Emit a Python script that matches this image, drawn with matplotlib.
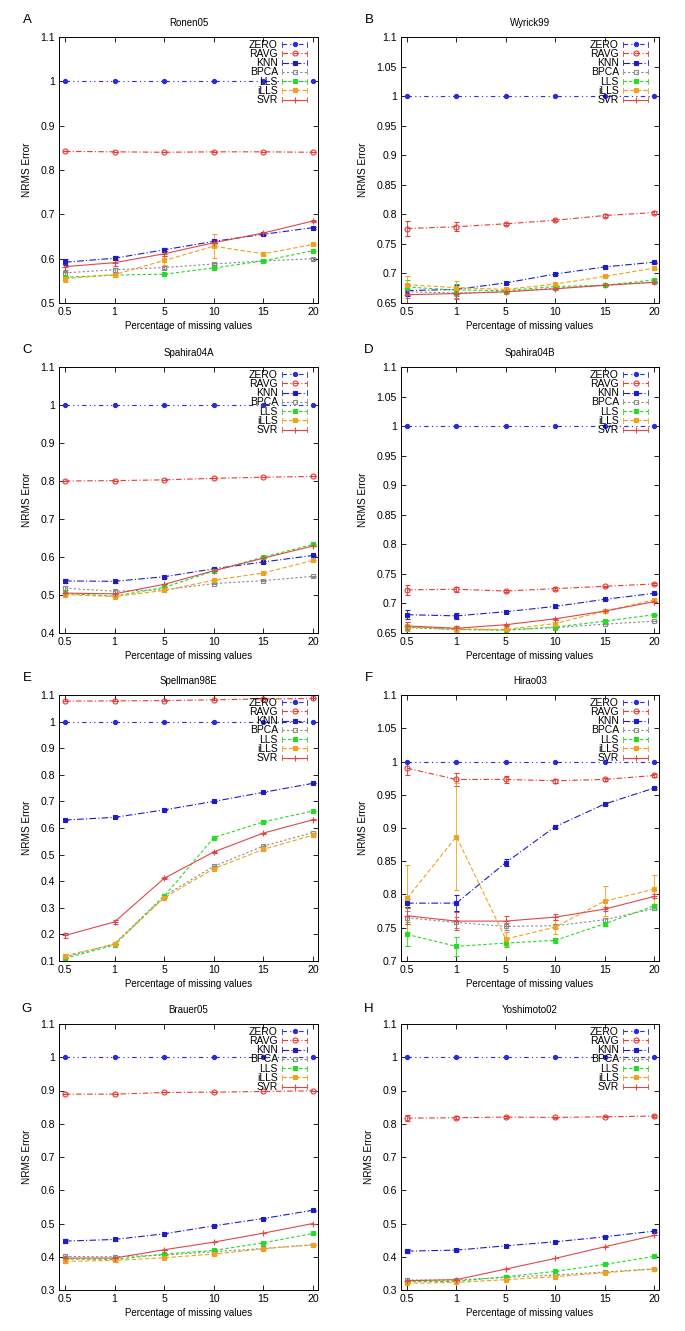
import numpy as np
import matplotlib
matplotlib.use("Agg")
import matplotlib.pyplot as plt
from matplotlib.lines import Line2D
from matplotlib.legend_handler import HandlerBase

plt.rcParams['font.family'] = ['Liberation Sans Narrow', 'Liberation Sans', 'DejaVu Sans']

categories = ["0.5", "1", "5", "10", "15", "20"]
methods = ["ZERO", "RAVG", "KNN", "BPCA", "LLS", "iLLS", "SVR"]

# ---- data per dataset (NRMS error) ----
ronen05 = {
    "ZERO": [1.0, 1.0, 1.0, 1.0, 1.0, 1.0],
    "RAVG": [0.842, 0.841, 0.840, 0.841, 0.841, 0.840],
    "KNN":  [0.592, 0.601, 0.620, 0.639, 0.655, 0.670],
    "BPCA": [0.568, 0.575, 0.580, 0.588, 0.595, 0.600],
    "LLS":  [0.558, 0.563, 0.565, 0.579, 0.595, 0.618],
    "iLLS": [0.555, 0.564, 0.596, 0.628, 0.611, 0.632],
    "SVR":  [0.582, 0.591, 0.611, 0.636, 0.658, 0.685],
}
ronen05_err = {
    "KNN":  [0.007, 0.005, 0.003, 0.003, 0.002, 0.002],
    "iLLS": [0.007, 0.005, 0.010, 0.027, 0.003, 0.002],
    "SVR":  [0.012, 0.008, 0.006, 0.004, 0.003, 0.002],
    "BPCA": [0.006, 0.004, 0.003, 0.002, 0.002, 0.002],
}

wyrick99 = {
    "ZERO": [1.0, 1.0, 1.0, 1.0, 1.0, 1.0],
    "RAVG": [0.776, 0.779, 0.784, 0.790, 0.798, 0.803],
    "KNN":  [0.671, 0.673, 0.684, 0.699, 0.711, 0.719],
    "BPCA": [0.669, 0.667, 0.669, 0.675, 0.680, 0.685],
    "LLS":  [0.677, 0.672, 0.671, 0.678, 0.680, 0.689],
    "iLLS": [0.681, 0.676, 0.673, 0.682, 0.695, 0.709],
    "SVR":  [0.664, 0.666, 0.669, 0.674, 0.680, 0.685],
}
wyrick99_err = {
    "RAVG": [0.012, 0.008, 0.002, 0.002, 0.002, 0.002],
    "KNN":  [0.010, 0.008, 0.002, 0.002, 0.001, 0.001],
    "BPCA": [0.010, 0.008, 0.002, 0.002, 0.001, 0.001],
    "LLS":  [0.012, 0.010, 0.002, 0.002, 0.001, 0.001],
    "iLLS": [0.015, 0.011, 0.002, 0.002, 0.001, 0.001],
    "SVR":  [0.016, 0.010, 0.002, 0.002, 0.001, 0.001],
}

spahira04a = {
    "ZERO": [1.0, 1.0, 1.0, 1.0, 1.0, 1.0],
    "RAVG": [0.800, 0.801, 0.803, 0.807, 0.810, 0.812],
    "KNN":  [0.537, 0.536, 0.548, 0.569, 0.587, 0.604],
    "BPCA": [0.518, 0.510, 0.514, 0.530, 0.538, 0.549],
    "LLS":  [0.504, 0.497, 0.520, 0.563, 0.600, 0.633],
    "iLLS": [0.501, 0.496, 0.512, 0.539, 0.558, 0.591],
    "SVR":  [0.505, 0.503, 0.528, 0.564, 0.597, 0.629],
}
spahira04a_err = {
    "KNN":  [0.005, 0.004, 0.002, 0.002, 0.002, 0.002],
    "BPCA": [0.005, 0.004, 0.002, 0.002, 0.002, 0.002],
}

spahira04b = {
    "ZERO": [1.0, 1.0, 1.0, 1.0, 1.0, 1.0],
    "RAVG": [0.723, 0.724, 0.721, 0.725, 0.729, 0.733],
    "KNN":  [0.681, 0.679, 0.686, 0.695, 0.707, 0.717],
    "BPCA": [0.659, 0.656, 0.655, 0.659, 0.665, 0.670],
    "LLS":  [0.660, 0.656, 0.655, 0.660, 0.670, 0.681],
    "iLLS": [0.661, 0.657, 0.656, 0.666, 0.687, 0.706],
    "SVR":  [0.662, 0.658, 0.664, 0.674, 0.687, 0.703],
}
spahira04b_err = {
    "RAVG": [0.008, 0.004, 0.002, 0.002, 0.001, 0.001],
    "KNN":  [0.008, 0.005, 0.002, 0.002, 0.001, 0.001],
    "iLLS": [0.008, 0.005, 0.002, 0.002, 0.002, 0.002],
    "SVR":  [0.006, 0.004, 0.002, 0.002, 0.001, 0.001],
}

spellman98e = {
    "ZERO": [1.0, 1.0, 1.0, 1.0, 1.0, 1.0],
    "RAVG": [1.077, 1.078, 1.079, 1.082, 1.085, 1.087],
    "KNN":  [0.630, 0.640, 0.668, 0.700, 0.734, 0.768],
    "BPCA": [0.115, 0.165, 0.345, 0.456, 0.532, 0.583],
    "LLS":  [0.110, 0.160, 0.343, 0.564, 0.623, 0.664],
    "iLLS": [0.120, 0.163, 0.338, 0.447, 0.520, 0.573],
    "SVR":  [0.196, 0.247, 0.411, 0.510, 0.581, 0.631],
}
spellman98e_err = {
    "SVR":  [0.010, 0.008, 0.003, 0.003, 0.002, 0.002],
    "iLLS": [0.008, 0.004, 0.003, 0.003, 0.002, 0.002],
}

hirao03 = {
    "ZERO": [1.0, 1.0, 1.0, 1.0, 1.0, 1.0],
    "RAVG": [0.990, 0.973, 0.973, 0.971, 0.973, 0.979],
    "KNN":  [0.787, 0.787, 0.848, 0.902, 0.936, 0.960],
    "BPCA": [0.765, 0.758, 0.752, 0.753, 0.762, 0.779],
    "LLS":  [0.740, 0.722, 0.727, 0.731, 0.756, 0.783],
    "iLLS": [0.794, 0.887, 0.733, 0.751, 0.790, 0.808],
    "SVR":  [0.768, 0.760, 0.760, 0.766, 0.778, 0.797],
}
hirao03_err = {
    "RAVG": [0.010, 0.010, 0.005, 0.003, 0.002, 0.002],
    "KNN":  [0.006, 0.012, 0.005, 0.002, 0.002, 0.002],
    "BPCA": [0.010, 0.008, 0.005, 0.003, 0.003, 0.003],
    "LLS":  [0.018, 0.014, 0.006, 0.004, 0.003, 0.003],
    "iLLS": [0.050, 0.080, 0.010, 0.010, 0.023, 0.022],
    "SVR":  [0.012, 0.013, 0.007, 0.004, 0.003, 0.003],
}

brauer05 = {
    "ZERO": [1.0, 1.0, 1.0, 1.0, 1.0, 1.0],
    "RAVG": [0.889, 0.889, 0.894, 0.895, 0.897, 0.899],
    "KNN":  [0.447, 0.452, 0.469, 0.493, 0.515, 0.540],
    "BPCA": [0.401, 0.400, 0.405, 0.415, 0.425, 0.436],
    "LLS":  [0.393, 0.392, 0.408, 0.419, 0.442, 0.470],
    "iLLS": [0.386, 0.389, 0.397, 0.408, 0.424, 0.436],
    "SVR":  [0.396, 0.396, 0.421, 0.444, 0.471, 0.500],
}
brauer05_err = {
    "KNN":  [0.006, 0.004, 0.002, 0.002, 0.002, 0.002],
    "iLLS": [0.006, 0.004, 0.002, 0.002, 0.002, 0.002],
}

yoshimoto02 = {
    "ZERO": [1.0, 1.0, 1.0, 1.0, 1.0, 1.0],
    "RAVG": [0.817, 0.818, 0.820, 0.819, 0.821, 0.823],
    "KNN":  [0.417, 0.420, 0.433, 0.445, 0.460, 0.477],
    "BPCA": [0.330, 0.330, 0.338, 0.345, 0.354, 0.364],
    "LLS":  [0.325, 0.326, 0.340, 0.356, 0.377, 0.401],
    "iLLS": [0.320, 0.323, 0.331, 0.340, 0.352, 0.363],
    "SVR":  [0.328, 0.331, 0.363, 0.395, 0.430, 0.464],
}
yoshimoto02_err = {
    "RAVG": [0.008, 0.004, 0.002, 0.002, 0.002, 0.002],
    "KNN":  [0.005, 0.003, 0.002, 0.002, 0.002, 0.002],
}

panel_letters = ["A", "B", "C", "D", "E", "F", "G", "H"]
panel_titles = ["Ronen05", "Wyrick99", "Spahira04A", "Spahira04B",
                "Spellman98E", "Hirao03", "Brauer05", "Yoshimoto02"]
panel_data = [ronen05, wyrick99, spahira04a, spahira04b,
              spellman98e, hirao03, brauer05, yoshimoto02]
panel_err = [ronen05_err, wyrick99_err, spahira04a_err, spahira04b_err,
             spellman98e_err, hirao03_err, brauer05_err, yoshimoto02_err]
panel_ylim = [(0.5, 1.1), (0.65, 1.1), (0.4, 1.1), (0.65, 1.1),
              (0.1, 1.1), (0.7, 1.1), (0.3, 1.1), (0.3, 1.1)]
panel_ystep = [0.1, 0.05, 0.1, 0.05, 0.1, 0.05, 0.1, 0.1]

# ---- styles ----
styles = {
    "ZERO": dict(color="#2a2ae0", ls=(0, (4, 3, 1, 3, 1, 3)), marker="o", ms=3.0, mfc="#2a2ae0"),
    "RAVG": dict(color="#e83a32", ls=(0, (5, 2, 1, 2)), marker="o", ms=3.6, mfc="none"),
    "KNN":  dict(color="#1c1cc8", ls=(0, (6, 2, 1, 2)), marker="s", ms=3.2, mfc="#1c1cc8"),
    "BPCA": dict(color="#8a8a8a", ls=(0, (2, 2)), marker="s", ms=3.4, mfc="none"),
    "LLS":  dict(color="#22dd22", ls=(0, (3, 2)), marker="s", ms=3.2, mfc="#22dd22"),
    "iLLS": dict(color="#f0a21c", ls=(0, (4, 2)), marker="s", ms=3.2, mfc="#f0a21c"),
    "SVR":  dict(color="#e04848", ls="-", marker="+", ms=4.0, mfc="#e04848"),
}


class CapLineHandler(HandlerBase):
    """gnuplot-like key sample: |--marker--| with end caps."""
    def create_artists(self, legend, orig_handle, xdescent, ydescent,
                       width, height, fontsize, trans):
        ym = height / 2.0 - ydescent
        x0, x1 = -xdescent, width - xdescent
        h = 1.8
        line = Line2D([x0, x1], [ym, ym])
        line.update_from(orig_handle)
        line.set_marker("None")
        caps = Line2D([x0, x0, np.nan, x1, x1], [ym - h, ym + h, np.nan, ym - h, ym + h])
        caps.update_from(orig_handle)
        caps.set_marker("None")
        caps.set_linestyle("-")
        caps.set_linewidth(0.6)
        mk = Line2D([(x0 + x1) / 2.0], [ym])
        mk.update_from(orig_handle)
        mk.set_linestyle("None")
        for a in (line, caps, mk):
            a.set_transform(trans)
        return [line, caps, mk]


W, H = 685, 1331
fig = plt.figure(figsize=(W / 100, H / 100), dpi=100)

col_left = [59, 401]
col_width = [259, 258]
row_top = [37, 367, 695, 1024]
ax_h = 266
letter_y = [20, 350, 678, 1009]
letter_x = [27, 369]

x = np.arange(len(categories))
FS = 7.6

for i in range(8):
    r, c = divmod(i, 2)
    left = col_left[c] / W
    bottom = 1 - (row_top[r] + ax_h) / H
    ax = fig.add_axes([left, bottom, col_width[c] / W, ax_h / H])
    data = panel_data[i]
    errs = panel_err[i]
    proxies = []
    for m in methods:
        st = styles[m]
        err = errs.get(m, [0.0] * len(categories))
        ax.errorbar(x, data[m], yerr=err, color=st["color"], ls=st["ls"],
                    lw=0.8, marker=st["marker"], ms=st["ms"], mfc=st["mfc"],
                    mec=st["color"], mew=0.8, elinewidth=0.6, capsize=1.8,
                    capthick=0.6)
        proxies.append(Line2D([], [], color=st["color"], ls=st["ls"], lw=0.8,
                              marker=st["marker"], ms=st["ms"], mfc=st["mfc"],
                              mec=st["color"], mew=0.8, label=m))
    lo, hi = panel_ylim[i]
    step = panel_ystep[i]
    ax.set_ylim(lo, hi)
    ax.set_xlim(-0.12, 5.1)
    yt = np.round(np.arange(lo, hi + step / 2, step), 3)
    ax.set_yticks(yt)
    ax.set_yticklabels([("%g" % v) for v in yt])
    ax.set_xticks(x)
    ax.set_xticklabels(categories)
    ax.tick_params(direction="in", top=True, right=True, length=3.5,
                   width=0.6, labelsize=FS, pad=3)
    for sp in ax.spines.values():
        sp.set_linewidth(0.7)
    ax.set_title(panel_titles[i], fontsize=7.0, pad=8)
    ax.set_xlabel("Percentage of missing values", fontsize=7.0, labelpad=2.5)
    ax.set_ylabel("NRMS Error", fontsize=7.2, labelpad=6)
    ax.legend(handles=proxies, handler_map={Line2D: CapLineHandler()},
              loc="upper right", bbox_to_anchor=(0.958, 0.99),
              frameon=False, markerfirst=False, fontsize=7.5,
              borderpad=0.0, borderaxespad=0.0, labelspacing=-0.07,
              handlelength=2.4, handleheight=0.7, handletextpad=0.4)
    fig.text(letter_x[c] / W, 1 - letter_y[r] / H, panel_letters[i],
             fontsize=9.5, ha="center", va="center", family="Liberation Sans")

fig.savefig("out.png", dpi=100)
